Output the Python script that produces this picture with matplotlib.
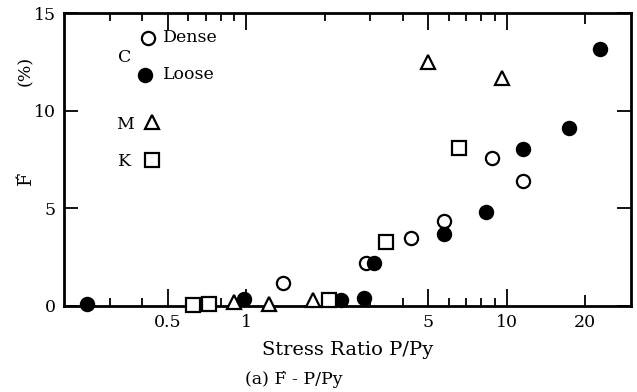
import matplotlib.pyplot as plt
from matplotlib.ticker import FixedLocator, NullFormatter

plt.rcParams['font.family'] = 'DejaVu Serif'

# stress ratio P/Py and F' (%) for each sand type
dense_x = [1.39, 2.88, 4.29, 5.74, 8.76, 11.6]
dense_y = [1.2, 2.2, 3.5, 4.35, 7.6, 6.4]
loose_x = [0.244, 0.98, 2.31, 2.83, 3.09, 5.74, 8.32, 11.5, 17.3, 22.9]
loose_y = [0.1, 0.35, 0.3, 0.4, 2.2, 3.7, 4.8, 8.05, 9.1, 13.15]
m_x = [0.90, 1.22, 1.81, 4.98, 9.56]
m_y = [0.2, 0.1, 0.3, 12.5, 11.65]
k_x = [0.626, 0.72, 2.08, 3.44, 6.54]
k_y = [0.05, 0.1, 0.3, 3.3, 8.1]

x_major = [0.5, 1, 5, 10, 20]
x_major_labels = ['0.5', '1', '5', '10', '20']
x_minor = [0.3, 0.4, 0.6, 0.7, 0.8, 0.9, 2, 3, 4, 6, 7, 8, 9]
y_ticks = [0, 5, 10, 15]

fig = plt.figure(figsize=(6.37, 3.92), dpi=100)
ax = fig.add_axes([0.1005, 0.2194, 0.8901, 0.7474])

mk = dict(linestyle='none', markersize=9.5, markeredgewidth=1.6,
          markeredgecolor='black', clip_on=False, zorder=3)
ax.plot(dense_x, dense_y, marker='o', markerfacecolor='white', **mk)
ax.plot(loose_x, loose_y, marker='o', markerfacecolor='black', **mk)
ax.plot(m_x, m_y, marker='^', markerfacecolor='white', **mk)
ax.plot(k_x, k_y, marker='s', markerfacecolor='white', **mk)

ax.set_xscale('log')
ax.set_xlim(0.2, 30)
ax.set_ylim(0, 15)

ax.xaxis.set_major_locator(FixedLocator(x_major))
ax.set_xticklabels(x_major_labels)
ax.xaxis.set_minor_locator(FixedLocator(x_minor))
ax.xaxis.set_minor_formatter(NullFormatter())
ax.set_yticks(y_ticks)

ax.tick_params(axis='both', which='both', direction='in', top=True, right=True,
               width=1.3, labelsize=12.5, pad=6)
ax.tick_params(axis='x', which='major', length=12)
ax.tick_params(axis='x', which='minor', length=5.5)
ax.tick_params(axis='y', which='major', length=10)
# 20 gets a shorter tick than the decade marks
for t in ax.xaxis.get_major_ticks():
    if t.get_loc() == 20:
        t.tick1line.set_markersize(8)
        t.tick2line.set_markersize(8)

for s in ax.spines.values():
    s.set_linewidth(2)

# legend drawn by hand
lm = dict(linestyle='none', markersize=9.5, markeredgewidth=1.6,
          markeredgecolor='black', transform=ax.transAxes, clip_on=False)
ax.plot(0.148, 0.916, marker='o', markerfacecolor='white', **lm)
ax.plot(0.143, 0.790, marker='o', markerfacecolor='black', **lm)
ax.plot(0.156, 0.628, marker='^', markerfacecolor='white', **lm)
ax.plot(0.155, 0.498, marker='s', markerfacecolor='white', **lm)
ax.text(0.175, 0.916, 'Dense', transform=ax.transAxes, fontsize=12.5, va='center')
ax.text(0.175, 0.790, 'Loose', transform=ax.transAxes, fontsize=12.5, va='center')
ax.text(0.107, 0.848, 'C', transform=ax.transAxes, fontsize=12.5, ha='center', va='center')
ax.text(0.107, 0.618, 'M', transform=ax.transAxes, fontsize=12.5, ha='center', va='center')
ax.text(0.107, 0.492, 'K', transform=ax.transAxes, fontsize=12.5, ha='center', va='center')

ax.set_xlabel('Stress Ratio P/Py', fontsize=14, labelpad=7)
fig.text(0.04, 0.545, "F\u0301", rotation=90, fontsize=14, ha='center', va='center')
fig.text(0.04, 0.82, '(%)', rotation=90, fontsize=12.5, ha='center', va='center')
fig.text(0.462, 0.033, "(a) F\u0301 - P/Py", fontsize=12.5, ha='center', va='center')

plt.savefig('out.png', dpi=100)
